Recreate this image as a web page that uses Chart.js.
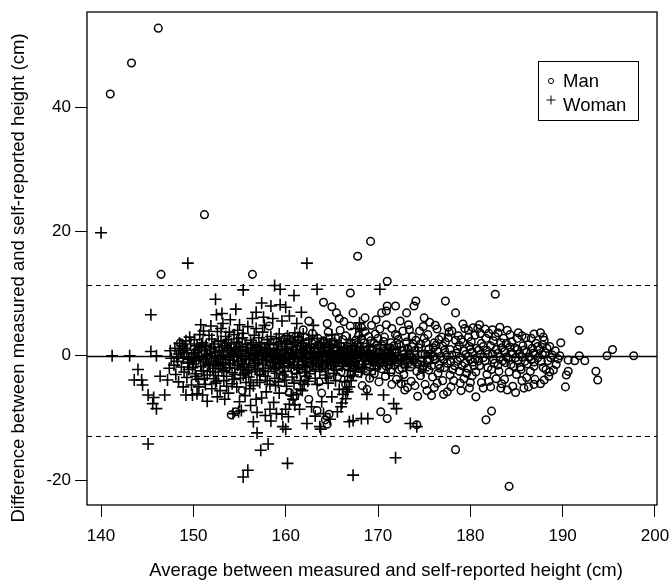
<!DOCTYPE html>
<html>
<head>
<meta charset="utf-8">
<script src="https://cdn.jsdelivr.net/npm/chart.js@4/dist/chart.umd.min.js"></script>
<style>
  html, body { margin: 0; padding: 0; background: #fff; }
</style>
</head>
<body>
<canvas id="chart" width="670" height="585"></canvas>
<script>
// axis ticks
const xTicks = [140, 150, 160, 170, 180, 190, 200];
const yTicks = [-20, 0, 20, 40];

// mean difference and limits of agreement
const meanDiff = 0;
const upperLimit = 11.4;
const lowerLimit = -12.9;

const seriesLabels = ["Man", "Woman"];

// [average height, difference]
const manPts = [
  [141.0,42.1],[143.3,47.1],[146.2,52.7],[151.2,22.7],[146.5,13.1],[156.4,13.1],
  [148.6,2.1],[148.8,1.0],[149.1,0.2],[150.5,1.0],[152.0,-1.0],[153.5,1.5],[153.6,-2.0],
  [154.1,-9.5],[154.6,-9.0],[154.5,0.6],[155.3,-5.6],[155.2,2.2],[156.0,-1.0],
  [157.0,1.2],[157.1,-2.6],[158.2,4.8],[158.3,-0.5],[159.0,-1.8],[159.1,2.3],
  [159.8,0.6],[159.7,-3.2],[160.5,1.8],[160.6,-0.9],[160.4,-5.9],
  [161.0,-2.4],[161.1,3.1],[161.0,-6.5],[161.5,0.3],[161.6,-1.4],[161.4,2.6],
  [162.0,1.4],[162.1,-3.8],[161.9,4.2],[162.5,5.6],[162.6,-0.7],[162.4,2.3],[162.5,-7.0],
  [163.0,-1.9],[163.1,0.9],[162.9,3.6],[163.5,1.7],[163.6,-4.2],[163.4,-8.8],[163.5,2.8],
  [164.0,-0.4],[164.1,2.4],[164.1,8.6],[163.9,-6.0],[164.3,-10.3],[164.7,-9.4],[164.5,-11.0],
  [164.7,1.0],[164.8,-2.8],[164.6,3.8],[165.0,7.9],[165.1,-1.2],[164.9,0.4],
  [165.5,6.9],[165.4,2.9],[165.6,-3.4],[165.5,-1.0],
  [166.0,1.5],[166.1,-0.2],[165.9,4.1],[166.0,-2.6],
  [166.5,3.2],[166.6,-1.6],[166.4,0.7],[166.5,-4.6],
  [167.0,10.1],[167.1,2.0],[166.9,-0.8],[167.0,4.8],[167.1,-3.0],
  [167.3,6.9],[167.4,0.9],[167.2,-1.9],
  [167.8,16.0],[167.9,3.3],[167.7,-0.5],[167.8,1.8],[167.9,-2.8],
  [168.2,4.6],[168.3,0.3],[168.1,-1.3],[168.2,2.7],[168.3,-4.8],
  [168.7,1.4],[168.8,-0.7],[168.6,3.9],[168.7,-2.4],[168.8,-5.4],
  [169.2,18.4],[169.3,0.8],[169.1,-1.8],[169.2,2.4],[169.3,4.9],[169.1,-3.6],
  [169.6,2.0],[169.7,-0.3],[169.5,1.1],[169.6,-2.9],[169.7,3.5],
  [170.1,0.4],[170.2,-1.2],[170.0,2.8],[170.1,-4.2],[170.2,4.3],[170.3,-9.0],
  [170.4,6.9],[170.5,1.6],[170.3,-0.6],[170.4,-2.1],
  [170.8,0.9],[170.9,-1.7],[170.7,3.0],[170.8,-3.3],[170.9,5.0],
  [171.0,12.0],[171.0,8.0],[171.0,-10.1],[171.1,-0.1],
  [171.4,2.1],[171.5,-0.9],[171.3,1.3],[171.4,-2.6],[171.5,-4.6],
  [171.9,8.0],[172.0,0.6],[171.8,-1.5],[171.9,3.4],[172.0,-3.8],
  [172.3,1.8],[172.4,-0.4],[172.2,2.6],[172.3,-2.2],
  [172.8,0.2],[172.9,-1.3],[172.7,4.0],[172.8,-3.0],[172.9,-5.5],
  [173.1,6.9],[173.2,1.2],[173.0,-0.6],[173.1,2.2],
  [173.6,-0.2],[173.7,3.1],[173.5,-1.8],[173.6,-4.1],[173.7,1.5],
  [174.1,8.8],[173.9,8.0],[174.0,0.8],[174.2,-2.5],[174.1,2.5],[174.2,-11.1],[174.3,-6.5],
  [174.6,1.9],[174.7,-0.9],[174.5,4.0],[174.6,-3.2],
  [175.0,6.1],[175.1,0.3],[174.9,-1.6],[175.0,2.8],[175.1,-4.6],
  [175.5,1.1],[175.6,-0.5],[175.4,3.4],[175.5,-2.3],[175.6,5.4],
  [176.0,-0.1],[176.1,2.1],[175.9,-3.4],[176.0,1.3],[176.1,-5.1],
  [176.5,0.7],[176.6,-1.4],[176.4,4.3],[176.5,-2.8],[176.6,2.6],
  [177.0,1.6],[177.1,-0.6],[176.9,3.0],[177.0,-4.0],[177.1,-6.2],
  [177.3,8.8],[177.4,0.1],[177.2,-1.9],[177.3,2.2],
  [177.8,1.0],[177.9,-0.9],[177.7,3.8],[177.8,-3.1],[177.9,-5.0],
  [178.4,6.9],[178.4,-15.1],[178.5,0.4],[178.3,-1.6],[178.4,2.5],
  [178.8,1.7],[178.9,-0.3],[178.7,3.2],[178.8,-2.5],[178.9,-4.4],
  [179.3,0.8],[179.4,-1.2],[179.2,2.2],[179.3,-3.7],[179.4,4.4],
  [179.8,-0.1],[179.9,1.5],[179.7,-2.0],[179.8,3.0],[179.9,-5.2],
  [180.2,0.6],[180.3,-1.0],[180.1,2.3],[180.2,-3.2],[180.3,4.5],
  [180.6,-6.6],[180.7,1.2],[180.5,-0.5],[180.6,-2.6],
  [181.1,0.2],[181.2,2.0],[181.0,-1.6],[181.1,3.6],[181.2,-4.3],
  [181.7,-10.3],[181.8,0.9],[181.6,-0.8],[181.7,2.8],[181.8,-3.0],
  [182.3,-8.9],[182.4,0.3],[182.2,1.6],[182.3,-2.2],[182.4,4.2],[182.2,-5.0],
  [182.7,9.9],[182.8,1.0],[182.6,-1.2],[182.7,3.1],[182.8,-3.7],
  [183.2,-0.2],[183.3,2.1],[183.1,-2.5],[183.2,4.6],[183.3,-5.2],
  [183.7,0.7],[183.8,-1.1],[183.6,2.8],[183.7,-3.8],
  [184.2,-21.0],[184.3,1.4],[184.1,-0.4],[184.2,-2.6],[184.3,3.4],
  [184.6,0.3],[184.7,-1.7],[184.5,2.2],[184.6,-4.9],[184.9,-5.9],
  [185.1,1.0],[185.2,-0.8],[185.0,-3.0],[185.1,2.8],
  [185.6,-0.2],[185.7,1.6],[185.5,-2.2],[185.6,-4.0],
  [186.1,0.6],[186.2,-1.3],[186.0,2.9],[186.1,-3.5],
  [186.6,-0.6],[186.7,1.2],[186.5,-2.5],[186.3,-5.0],
  [187.0,0.2],[187.1,2.0],[186.9,-1.7],[187.0,-3.8],
  [187.6,3.7],[187.7,-0.9],[187.5,1.0],[187.6,-4.5],
  [188.1,0.5],[188.2,-2.2],[188.0,2.5],
  [188.6,1.5],[188.7,-0.3],[188.5,-3.3],
  [189.2,0.8],[189.3,-1.4],
  [189.8,2.1],[189.7,0.0],
  [190.6,-0.7],[190.6,-2.5],[190.4,-3.1],[190.3,-5.0],
  [191.3,-0.8],[191.8,4.1],[191.8,0.0],[192.4,-0.8],
  [193.6,-2.5],[193.8,-3.9],[194.8,0.0],[195.4,1.0],[197.7,0.0],
  [158.6,1.5],[159.3,-0.9],[160.1,3.0],[160.9,0.9],[161.8,-0.3],[162.2,-2.1],[162.7,0.9],
  [163.3,-0.6],[163.8,0.6],[164.2,-1.6],[164.4,1.9],[165.2,2.2],[165.3,-0.3],[165.8,-1.7],
  [166.2,2.6],[166.3,-0.9],[166.8,1.4],[167.2,-0.1],[167.6,2.5],[167.5,-1.2],[168.0,0.9],
  [168.0,-2.0],[168.5,2.1],[168.5,-0.1],[168.9,-1.3],[169.0,3.1],[169.4,-0.9],[169.4,0.2],
  [169.9,1.7],[169.9,-1.8],[170.6,0.0],[170.6,2.3],[171.2,-1.5],[171.2,0.6],[171.7,1.6],
  [171.7,-0.4],[172.1,-1.0],[172.1,3.2],[172.6,0.8],[172.6,-2.0],[173.3,-1.1],[173.4,0.3],
  [173.8,1.9],[173.9,-0.7],[174.3,-1.3],[174.4,1.3],[174.8,0.3],[174.8,-2.2],[175.3,-0.9],
  [175.2,2.1],[175.7,0.3],[175.8,-1.6],[176.3,1.7],[176.2,-0.6],[176.8,-0.1],[176.7,-2.0],
  [177.2,0.9],[177.5,-1.2],[177.6,2.9],[178.0,0.1],[178.1,-2.2],[178.6,1.1],[178.6,-0.9],
  [179.0,2.6],[179.1,-1.6],[179.5,0.2],[179.6,-2.8],[180.0,1.0],[180.0,-0.6],[180.4,-1.6],
  [180.5,3.3],[180.9,0.9],[180.9,-0.8],[181.4,-0.3],[181.4,1.5],[181.9,0.2],[181.9,-1.9],
  [182.0,3.6],[182.5,-0.6],[182.5,2.4],[183.0,0.4],[183.0,-1.5],[183.4,1.3],[183.5,-0.8],
  [183.9,-0.2],[183.9,2.0],[184.4,0.6],[184.4,-1.4],[184.8,1.3],[184.9,-0.3],[185.3,0.3],
  [185.4,-1.8],[185.8,0.9],[185.9,-0.9],[186.3,1.8],[186.4,-0.2],[186.8,0.4],[186.9,-1.0],
  [187.3,-0.3],[187.3,1.5],[187.8,0.2],[187.9,-1.9],[188.3,1.2],[188.4,-0.8],[188.9,0.1],
  [189.0,-2.3],[189.5,-0.5],
  [164.5,5.2],[165.8,6.0],[166.3,5.5],[168.6,6.1],[169.8,5.8],[170.9,7.2],[172.4,5.6],
  [173.3,5.0],[176.2,4.9],[177.6,4.6],[179.2,5.1],[180.8,4.4],[181.6,4.3],[183.0,3.7],
  [185.2,3.7],[186.6,2.8],[187.9,3.0],
  [172.5,-4.5],[173.2,-5.1],[174.0,-4.8],[175.3,-5.6],[175.8,-6.4],[176.4,-4.4],[177.5,-5.8],
  [178.2,-4.0],[179.0,-5.6],[180.0,-4.3],[181.4,-5.2],[182.0,-4.1],[183.4,-4.5],[184.0,-5.5],
  [185.8,-5.2],[186.9,-4.6],[188.0,-3.9],[188.6,-2.6],
  [171.5,4.4],[173.4,4.2],[174.9,4.7],[178.0,4.0],[179.8,4.1],[181.0,5.0],[184.0,4.1],
  [185.6,3.2],[186.9,3.5],[187.8,1.8]
];

const womanPts = [
  [140.0,19.8],[141.2,0],[143.1,0],[143.6,-3.9],[144.0,-2.2],[144.4,-3.9],[144.5,-4.7],
  [145.1,-6.3],[145.1,-14.2],[145.4,6.6],[145.4,0.7],[145.6,-7.7],[145.7,-6.7],[146.0,0],
  [146.0,-8.5],[146.4,-3.3],[146.9,-6.3],[147.2,-3.9],[149.4,14.9],[149.2,-6.3],[149.9,-6.3],
  [155.4,-19.5],[155.9,-18.4],[158.1,-14.2],[160.2,-17.3],
  [147.4,-2.0],[147.6,-0.4],[147.5,0.8],
  [148.0,1.2],[147.9,-1.5],[148.1,-3.0],
  [148.4,0.3],[148.3,-0.9],[148.5,2.0],[148.4,-4.2],
  [148.9,-0.4],[148.8,1.6],[149.0,-2.6],[148.9,-5.0],
  [149.3,0.9],[149.4,-1.2],[149.2,2.4],[149.3,-3.5],
  [149.8,-0.2],[149.7,1.9],[149.9,-1.9],[149.8,-4.7],[149.6,3.0],
  [150.2,0.5],[150.3,-0.8],[150.1,2.6],[150.2,-2.9],[150.4,-6.1],
  [150.7,1.3],[150.6,-0.3],[150.8,-1.7],[150.7,3.4],[150.5,-3.8],
  [151.1,-0.6],[151.2,0.8],[151.0,2.1],[151.1,-2.4],[151.3,-4.6],[151.1,4.0],
  [151.5,0.2],[151.6,-1.3],[151.4,1.7],[151.5,-3.1],[151.7,3.3],[151.5,-7.3],
  [152.0,-0.1],[151.9,1.1],[152.1,-2.0],[152.0,2.7],[152.2,-3.7],[151.9,4.8],[152.0,-5.3],
  [152.4,0.6],[152.5,-0.9],[152.3,1.9],[152.4,-2.6],[152.6,3.9],[152.4,-4.4],[152.4,9.1],[152.5,6.6],
  [152.9,-0.5],[152.8,0.9],[153.0,2.4],[152.9,-1.6],[152.7,-3.2],[153.0,4.4],[152.9,-5.6],
  [153.3,0.1],[153.4,1.6],[153.2,-1.1],[153.3,-2.4],[153.5,3.1],[153.3,-4.0],[153.2,5.2],
  [153.8,-0.3],[153.7,1.2],[153.9,-1.9],[153.8,2.6],[153.6,-3.3],[153.9,3.8],[153.8,-6.0],
  [154.2,0.4],[154.3,-0.7],[154.1,1.9],[154.2,-2.7],[154.4,3.4],[154.2,-4.5],[154.0,5.8],[154.3,-9.3],
  [154.7,-0.2],[154.6,1.0],[154.8,-1.5],[154.7,2.2],[154.5,-3.0],[154.8,4.1],[154.7,-5.0],[154.9,-9.0],
  [155.1,0.7],[155.2,-0.9],[155.0,1.5],[155.1,-2.2],[155.3,2.9],[155.1,-3.6],[155.0,5.0],[155.2,-8.8],
  [155.6,0.0],[155.5,-1.3],[155.7,1.9],[155.6,-2.8],[155.4,3.6],[155.7,-4.3],[155.4,10.6],[155.6,-6.4],
  [156.0,0.4],[156.1,-0.6],[155.9,1.3],[156.0,-1.9],[156.2,2.5],[156.0,-3.4],[155.9,4.7],[156.1,-5.3],
  [156.5,-0.4],[156.4,0.9],[156.6,-1.6],[156.5,2.1],[156.3,-2.6],[156.6,3.3],[156.5,-4.8],[156.4,6.0],[156.5,-10.6],
  [156.9,0.2],[157.0,-1.1],[156.8,1.6],[156.9,-2.2],[157.1,2.9],[156.9,-3.9],[156.8,4.4],[156.9,-9.1],[156.9,-12.4],
  [157.4,-0.1],[157.3,0.9],[157.5,-1.4],[157.4,2.1],[157.2,-3.0],[157.5,3.8],[157.4,8.5],[157.4,-6.8],[157.3,-15.2],
  [157.8,0.5],[157.9,-0.7],[157.7,1.3],[157.8,-2.0],[158.0,2.6],[157.8,-3.3],[157.7,4.9],[157.9,-5.8],
  [158.3,-0.3],[158.2,0.7],[158.4,-1.6],[158.3,1.8],[158.1,-2.5],[158.4,3.1],[158.3,-4.6],[158.4,8.0],[158.3,-8.6],
  [158.8,0.1],[158.9,-1.0],[158.7,1.2],[158.8,-2.1],[159.0,2.8],[158.8,-3.6],[158.8,11.3],[158.7,-7.5],
  [159.2,-0.5],[159.1,0.6],[159.3,-1.3],[159.2,1.9],[159.0,-2.8],[159.3,3.5],[159.2,-4.2],[159.0,-9.3],[159.4,10.7],
  [159.7,0.3],[159.8,-0.8],[159.6,1.5],[159.7,-1.8],[159.9,2.4],[159.7,-3.1],[159.6,5.6],[159.7,-11.4],
  [160.1,-0.2],[160.0,0.9],[160.2,-1.2],[160.1,2.0],[159.9,-2.5],[160.2,3.2],[160.1,-4.9],[160.0,7.8],[160.0,-11.8],
  [160.6,0.4],[160.5,-0.6],[160.7,1.4],[160.6,-1.9],[160.4,2.7],[160.7,-3.4],[160.6,-6.3],
  [161.0,-0.1],[161.1,1.0],[160.9,-1.5],[161.0,2.2],[161.2,-2.8],[161.0,3.7],[160.9,9.7],[161.0,-7.9],
  [161.5,0.5],[161.4,-0.9],[161.6,1.6],[161.5,-2.2],[161.3,3.0],[161.6,-4.0],
  [161.9,-0.3],[162.0,0.8],[161.8,-1.4],[161.9,2.0],[162.1,-2.6],[161.9,3.5],[161.8,-5.6],
  [162.3,0.2],[162.4,-1.0],[162.2,1.3],[162.3,-1.9],[162.5,2.6],[162.3,14.9],[162.3,-10.9],[162.4,-4.1],
  [162.8,-0.5],[162.7,0.6],[162.9,-1.6],[162.8,1.9],[162.6,-2.9],[162.9,3.3],
  [163.2,0.0],[163.3,-0.8],[163.1,1.2],[163.2,-2.2],[163.4,2.8],[163.2,-3.6],[163.7,-11.4],
  [163.7,0.4],[163.6,-1.2],[163.8,1.6],[163.7,-2.5],[163.4,10.7],[163.8,-11.8],
  [164.1,-0.2],[164.2,0.9],[164.0,-1.5],[164.1,2.1],[164.3,-3.1],[164.1,-9.3],
  [164.6,0.3],[164.5,-0.7],[164.7,1.4],[164.6,-2.0],[164.4,2.7],[164.6,-4.4],
  [165.0,-0.4],[165.1,0.8],[164.9,-1.3],[165.0,1.8],[165.2,-2.8],[165.0,3.4],
  [165.5,0.1],[165.4,-1.0],[165.6,1.3],[165.5,-2.3],[165.3,2.5],
  [166.0,-0.3],[165.9,0.7],[166.1,-1.7],[166.0,2.1],[166.0,-8.2],[166.2,-6.2],[166.4,-4.2],
  [166.4,0.2],[166.5,-0.9],[166.3,1.1],[166.6,-5.4],[166.7,-3.3],
  [166.9,-0.5],[166.8,0.6],[167.0,2.6],[166.9,-1.5],[166.9,-10.6],[167.0,-2.3],
  [167.3,0.3],[167.4,-1.1],[167.2,1.6],[167.6,4.4],[167.3,-19.2],[167.3,-10.4],
  [167.8,-0.2],[167.7,0.9],[167.9,-1.8],[168.0,5.3],
  [168.2,0.4],[168.3,-0.8],[168.1,1.3],[168.2,-2.6],[168.2,-10.1],
  [168.7,-0.1],[168.6,-1.4],[168.8,0.9],[168.8,-6.2],[168.9,-10.1],
  [169.1,0.2],[169.2,-0.9],[169.0,1.5],[169.1,-3.0],
  [169.6,-0.4],[169.5,0.6],[169.7,-2.1],
  [170.2,0.1],[170.1,-1.1],[170.2,10.7],[170.3,1.8],
  [170.6,-0.6],[170.7,0.8],[170.6,-6.3],
  [171.1,0.3],[171.0,-1.5],[171.2,-2.8],
  [171.6,-0.2],[171.5,1.0],[171.7,-7.7],
  [171.9,-16.4],[172.0,-8.5],[171.9,0.5],
  [172.5,-0.8],[172.4,1.4],[172.6,-4.0],
  [173.0,0.2],[173.1,-1.9],
  [173.5,-0.4],[173.5,-10.9],[173.4,2.5],
  [174.2,-11.4],[174.1,-0.9],[174.3,0.7],
  [175.0,-0.3],[174.9,-2.4],
  [175.8,0.4],[175.7,-1.2],
  [159.6,-9.4],[160.0,-8.6],[160.4,-7.8],[160.8,-7.0],[161.2,-6.2],[161.6,-5.4],[162.0,-4.6],
  [166.1,-7.6],[166.5,-6.9],[166.7,-5.8],[166.9,-5.0],[167.1,-4.0],[167.3,-3.1],[167.5,-2.0],
  [167.6,0.6],[167.8,2.0],[168.0,3.1],[168.2,4.2],
  [148.2,-0.2],[148.6,0.9],[148.7,-1.8],[149.1,1.2],[149.5,-0.6],[149.5,-2.2],[150.0,0.3],
  [150.0,-1.3],[150.4,1.6],[150.9,0.0],[150.9,-2.4],[151.3,1.5],[151.3,-1.0],[151.8,0.4],
  [151.8,-2.5],[152.2,1.4],[152.2,-1.4],[152.6,-0.2],[152.7,2.3],[153.1,0.6],[153.1,-2.1],
  [153.5,-0.6],[153.6,2.1],[154.0,0.0],[154.0,-1.2],[154.4,1.3],[154.5,-2.0],[154.9,0.3],
  [154.9,2.8],[155.3,-0.4],[155.3,-1.8],[155.8,0.8],[155.8,-2.3],[156.2,-0.1],[156.3,1.8],
  [156.7,0.4],[156.7,-1.2],[157.1,-0.5],[157.2,1.4],[157.6,0.3],[157.6,-2.5],[158.0,-0.1],
  [158.1,1.9],[158.5,0.2],[158.6,-1.1],[159.0,0.9],[159.0,-1.9],[159.4,0.0],[159.5,2.2],
  [159.9,-0.4],[159.9,1.1],[160.3,0.4],[160.3,-1.6],[160.8,-0.3],[160.8,1.8],[161.2,0.6],
  [161.3,-1.9],[161.7,-0.1],[161.7,2.5],[162.1,0.4],[162.1,-1.6],[162.6,-0.2],[162.6,1.5],
  [163.0,0.5],[163.0,-1.2],[163.4,-0.4],[163.5,1.9],[163.9,0.1],[163.9,-1.8],[164.3,0.5],
  [164.4,-1.0],[164.8,-0.1],[164.8,1.9],[165.2,0.4],[165.3,-1.6],[165.7,-0.5],[165.8,1.5],
  [166.2,0.3],[166.2,-1.2],[166.7,-0.2],[166.7,1.3],[167.1,0.1],[167.1,-1.0],[167.6,-0.4],
  [168.0,0.6],[168.4,-0.3],[168.5,-1.9],[168.9,0.3],[169.4,-0.5],[169.8,0.4],[170.0,-1.6],
  [170.4,0.2],[170.9,-0.9],[171.3,0.4],[171.8,-1.2],[172.2,0.1],[172.7,-0.5],[173.2,0.9],
  [173.8,-0.6],[174.6,-1.6],
  [150.6,-5.0],[151.0,-6.3],[152.6,-6.6],[153.4,-7.0],[155.0,-7.4],[156.2,-8.0],[156.8,-7.0],
  [157.8,-9.6],[158.4,-10.5],[159.3,-6.0],[160.3,-9.8],[161.5,-8.6],[162.8,-8.2],[163.2,-9.7],
  [163.9,-7.4],[165.0,-6.6],[164.8,-10.2],[165.6,-9.0],[165.8,-5.4],
  [150.8,5.0],[153.1,6.8],[154.6,7.5],[156.8,7.0],[157.6,6.2],[158.6,6.0],[159.4,8.2],
  [160.4,6.4],[161.2,5.2],[161.7,7.0],[163.0,4.9],
  [149.0,0.5],[149.6,-1.0],[150.1,-0.5],[150.5,0.9],[150.9,1.9],[151.4,-0.1],[151.8,-1.5],
  [152.3,0.0],[152.7,-1.2],[153.1,1.3],[153.5,-1.4],[154.0,0.8],[154.4,-0.1],[154.9,-0.9],
  [155.3,1.0],[155.7,-0.6],[156.2,0.9],[156.6,-0.8],[157.0,0.6],[157.5,-0.6],[157.9,1.0],
  [158.3,-1.0],[158.7,0.5],[159.1,-0.2],[159.5,-1.2],[160.0,0.2],[160.4,-1.0],[160.8,0.5],
  [161.3,-0.5],[161.7,1.0],[162.2,-0.5],[162.6,0.8],[163.0,-0.3],[163.5,0.6],[163.9,-0.7],
  [164.3,1.3],[164.8,0.6],[165.2,-0.8],[165.7,0.5],[166.1,-0.6],[166.6,0.6],[167.0,-0.4],
  [167.5,0.4],[168.5,0.5],[169.3,-0.2],[170.5,-0.3],[171.4,-0.6],
  [150.3,-3.3],[151.2,-3.6],[152.5,-4.1],[153.6,-4.9],[154.4,-3.8],[155.4,-3.1],[156.2,-4.3],
  [157.2,-4.3],[158.0,-4.0],[158.9,-4.8],[159.9,-3.9],[160.9,-4.4],[162.2,-3.3],[163.4,-4.6],
  [164.4,-3.6],[165.4,-4.0]
];

Chart.defaults.font.family = "'Liberation Sans', Arial, sans-serif";
Chart.defaults.color = "#000";

const toXY = pts => pts.map(p => ({ x: p[0], y: p[1] }));

// reference lines, frame, legend and axis titles
const decorPlugin = {
  id: "decor",
  beforeDatasetsDraw(chart) {
    const { ctx, chartArea: a, scales: { y } } = chart;
    ctx.save();
    ctx.strokeStyle = "#000";
    ctx.lineWidth = 1.3;
    let py = Math.round(y.getPixelForValue(meanDiff)) + 0.5;
    ctx.beginPath();
    ctx.moveTo(a.left, py);
    ctx.lineTo(a.right, py);
    ctx.stroke();
    ctx.setLineDash([5, 4]);
    ctx.lineWidth = 1.1;
    [upperLimit, lowerLimit].forEach(v => {
      const p = Math.round(y.getPixelForValue(v)) + 0.5;
      ctx.beginPath();
      ctx.moveTo(a.left, p);
      ctx.lineTo(a.right, p);
      ctx.stroke();
    });
    ctx.restore();
  },
  afterDraw(chart) {
    const { ctx, chartArea: a } = chart;
    ctx.save();
    ctx.strokeStyle = "#000";
    ctx.lineWidth = 1.3;
    ctx.strokeRect(a.left, a.top, a.right - a.left, a.bottom - a.top);

    // legend
    ctx.lineWidth = 1;
    ctx.strokeRect(538.5, 61.5, 100, 59);
    ctx.beginPath();
    ctx.arc(551, 81, 2.6, 0, Math.PI * 2);
    ctx.stroke();
    ctx.beginPath();
    ctx.moveTo(546.5, 100); ctx.lineTo(555.5, 100);
    ctx.moveTo(551, 95.5); ctx.lineTo(551, 104.5);
    ctx.stroke();
    ctx.fillStyle = "#000";
    ctx.font = "18.5px 'Liberation Sans', Arial, sans-serif";
    ctx.textBaseline = "middle";
    ctx.textAlign = "left";
    ctx.fillText(seriesLabels[0], 563, 82);
    ctx.fillText(seriesLabels[1], 563, 106);

    // axis titles
    ctx.textAlign = "center";
    ctx.fillText("Average between measured and self-reported height (cm)", 386, 571);
    ctx.translate(19, 278);
    ctx.rotate(-Math.PI / 2);
    ctx.fillText("Difference between measured and self-reported height (cm)", 0, 0);
    ctx.restore();
  }
};

new Chart(document.getElementById("chart"), {
  type: "scatter",
  data: {
    datasets: [
      {
        label: seriesLabels[1],
        data: toXY(womanPts),
        pointStyle: "cross",
        pointRadius: 6,
        borderColor: "#000",
        borderWidth: 1.6,
        backgroundColor: "rgba(0,0,0,0)"
      },
      {
        label: seriesLabels[0],
        data: toXY(manPts),
        pointStyle: "circle",
        pointRadius: 3.8,
        borderColor: "#000",
        borderWidth: 1.5,
        backgroundColor: "rgba(0,0,0,0)"
      }
    ]
  },
  options: {
    responsive: false,
    animation: false,
    layout: { padding: { left: 0, top: 12, right: 13, bottom: 0 } },
    plugins: { legend: { display: false }, tooltip: { enabled: false } },
    scales: {
      x: {
        type: "linear",
        min: 138.48,
        max: 200.22,
        afterBuildTicks: s => { s.ticks = xTicks.map(v => ({ value: v })); },
        afterFit: s => { s.height = 80; s.paddingLeft = 0; s.paddingRight = 0; },
        grid: { drawOnChartArea: false, drawTicks: true, tickLength: 12, tickColor: "#000", lineWidth: 1 },
        border: { display: false },
        ticks: { color: "#000", font: { size: 17 }, padding: 9, maxRotation: 0, autoSkip: false }
      },
      y: {
        type: "linear",
        min: -24.0,
        max: 55.3,
        afterBuildTicks: s => { s.ticks = yTicks.map(v => ({ value: v })); },
        afterFit: s => { s.width = 87; s.paddingTop = 0; s.paddingBottom = 0; },
        grid: { drawOnChartArea: false, drawTicks: true, tickLength: 12, tickColor: "#000", lineWidth: 1 },
        border: { display: false },
        ticks: { color: "#000", font: { size: 17 }, padding: 4, autoSkip: false }
      }
    }
  },
  plugins: [decorPlugin]
});
</script>
</body>
</html>
